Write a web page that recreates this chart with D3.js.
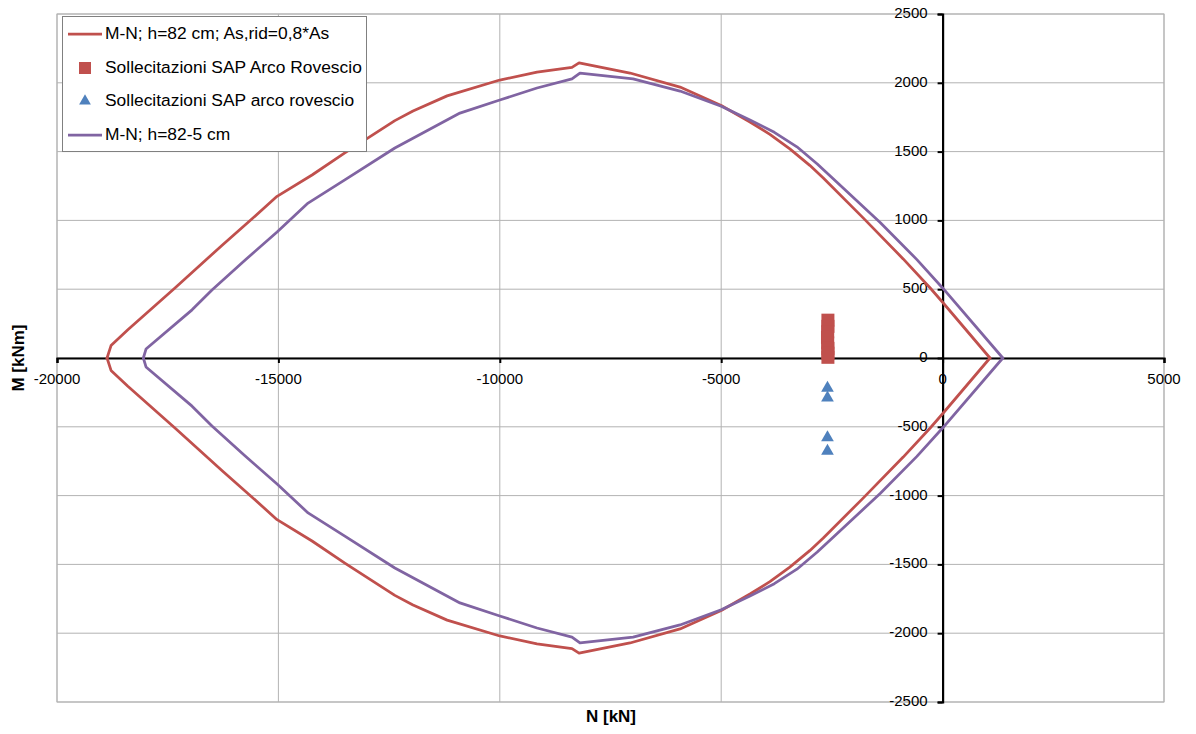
<!DOCTYPE html>
<html>
<head>
<meta charset="utf-8">
<script src="https://cdn.jsdelivr.net/npm/d3@7"></script>
<style>
  body { margin: 0; background: #fff; }
  text { font-family: "Liberation Sans", Arial, sans-serif; fill: #000; }
</style>
</head>
<body>
<svg id="chart" width="1196" height="734"></svg>
<script>
// M-N domain, h=82 cm; As,rid=0,8*As  [N kN, M kNm], upper and lower branch
const redUpper = [
  [-18870, 0], [-18780, 90], [-18400, 205], [-17330, 510], [-16270, 820],
  [-15600, 1010], [-15030, 1175], [-14240, 1330], [-13500, 1490], [-12370, 1725],
  [-11960, 1795], [-11190, 1905], [-10000, 2020], [-9160, 2078], [-8370, 2112],
  [-8210, 2145], [-7060, 2071], [-5930, 1969], [-5000, 1835], [-4350, 1715],
  [-3900, 1625], [-3450, 1520], [-3000, 1400], [-2700, 1310], [-1800, 1020],
  [-890, 720], [-270, 505], [0, 405], [1070, 0]
];
const redLower = [
  [-18870, 0], [-18780, -90], [-18400, -205], [-17330, -510], [-16270, -820],
  [-15600, -1010], [-15030, -1175], [-14240, -1330], [-13500, -1490], [-12370, -1725],
  [-11960, -1795], [-11190, -1905], [-10000, -2020], [-9160, -2078], [-8370, -2112],
  [-8210, -2145], [-7060, -2071], [-5930, -1969], [-5000, -1835], [-4350, -1715],
  [-3900, -1625], [-3450, -1520], [-3000, -1400], [-2700, -1310], [-1800, -1020],
  [-890, -720], [-270, -505], [0, -405], [1070, 0]
];

// M-N domain, h=82-5 cm
const purpleUpper = [
  [-18050, 0], [-17990, 65], [-16950, 350], [-16500, 494], [-15750, 712],
  [-15030, 916], [-14330, 1126], [-13500, 1294], [-12370, 1526], [-10900, 1780],
  [-10000, 1875], [-9160, 1962], [-8370, 2028], [-8190, 2071], [-6990, 2028],
  [-5930, 1940], [-5000, 1830], [-4350, 1730], [-3800, 1640], [-3290, 1535],
  [-2830, 1410], [-2380, 1275], [-1410, 985], [-580, 715], [0, 509], [1360, 0]
];
const purpleLower = [
  [-18050, 0], [-17990, -65], [-16950, -350], [-16500, -494], [-15750, -712],
  [-15030, -916], [-14330, -1126], [-13500, -1294], [-12370, -1526], [-10900, -1780],
  [-10000, -1875], [-9160, -1962], [-8370, -2028], [-8190, -2071], [-6990, -2028],
  [-5930, -1940], [-5000, -1830], [-4350, -1730], [-3800, -1640], [-3290, -1535],
  [-2830, -1410], [-2380, -1275], [-1410, -985], [-580, -715], [0, -509], [1360, 0]
];

// Sollecitazioni SAP Arco Rovescio (squares)
const squarePoints = [
  [-2590, 275], [-2590, 230], [-2595, 190], [-2600, 150], [-2595, 110],
  [-2590, 70], [-2590, 35], [-2590, 5]
];

// Sollecitazioni SAP arco rovescio (triangles)
const trianglePoints = [
  [-2600, -218], [-2600, -290], [-2600, -578], [-2600, -676]
];

const xTicks = [-20000, -15000, -10000, -5000, 0, 5000];
const yTicks = [-2500, -2000, -1500, -1000, -500, 0, 500, 1000, 1500, 2000, 2500];

const legendItems = [
  { label: "M-N; h=82 cm; As,rid=0,8*As", type: "line", color: "#C0504D" },
  { label: "Sollecitazioni SAP Arco Rovescio", type: "square", color: "#C0504D" },
  { label: "Sollecitazioni SAP arco rovescio", type: "triangle", color: "#4F81BD" },
  { label: "M-N; h=82-5 cm", type: "line", color: "#8064A2" }
];

const svg = d3.select("#chart");
const plot = { left: 57, right: 1164, top: 14, bottom: 702 };

const x = d3.scaleLinear().domain([-20000, 5000]).range([plot.left, plot.right]);
const y = d3.scaleLinear().domain([-2500, 2500]).range([plot.bottom, plot.top]);

// gridlines
svg.append("g").selectAll("line")
  .data(xTicks)
  .join("line")
  .attr("x1", d => x(d)).attr("x2", d => x(d))
  .attr("y1", plot.top).attr("y2", plot.bottom)
  .attr("stroke", "#b3b3b3").attr("stroke-width", 1);

svg.append("g").selectAll("line")
  .data(yTicks)
  .join("line")
  .attr("x1", plot.left).attr("x2", plot.right)
  .attr("y1", d => y(d)).attr("y2", d => y(d))
  .attr("stroke", "#b3b3b3").attr("stroke-width", 1);

svg.append("rect")
  .attr("x", plot.left).attr("y", plot.top)
  .attr("width", plot.right - plot.left).attr("height", plot.bottom - plot.top)
  .attr("fill", "none").attr("stroke", "#b3b3b3");

// tick labels
svg.append("g").selectAll("text")
  .data(xTicks)
  .join("text")
  .attr("x", d => x(d))
  .attr("y", y(0) + 22)
  .attr("text-anchor", "middle")
  .attr("dominant-baseline", "middle")
  .style("font-size", "15px")
  .text(d => d);

svg.append("g").selectAll("text")
  .data(yTicks)
  .join("text")
  .attr("x", x(0) - 15)
  .attr("y", d => y(d))
  .attr("text-anchor", "end")
  .attr("dominant-baseline", "middle")
  .style("font-size", "15px")
  .text(d => d);

// axes
const xAxis = d3.axisBottom(x).tickValues(xTicks).tickSize(5).tickFormat("");
const yAxis = d3.axisLeft(y).tickValues(yTicks).tickSize(5).tickFormat("");

const gx = svg.append("g").attr("transform", `translate(0,${y(0)})`).call(xAxis);
const gy = svg.append("g").attr("transform", `translate(${x(0)},0)`).call(yAxis);
[gx, gy].forEach(g => {
  g.select(".domain").attr("stroke", "#000").attr("stroke-width", 2.2);
  g.selectAll(".tick line").attr("stroke", "#000").attr("stroke-width", 2);
});

// curves
const line = d3.line()
  .x(d => x(d[0]))
  .y(d => y(d[1]));

[[redUpper, "#C0504D"], [redLower, "#C0504D"],
 [purpleUpper, "#8064A2"], [purpleLower, "#8064A2"]].forEach(([data, color]) => {
  svg.append("path")
    .datum(data)
    .attr("d", line)
    .attr("fill", "none")
    .attr("stroke", color)
    .attr("stroke-width", 2.75)
    .attr("stroke-linejoin", "round")
    .attr("stroke-linecap", "round");
});

// markers
const sq = 13;
svg.append("g").selectAll("rect")
  .data(squarePoints)
  .join("rect")
  .attr("x", d => x(d[0]) - sq / 2)
  .attr("y", d => y(d[1]) - sq / 2)
  .attr("width", sq).attr("height", sq)
  .attr("fill", "#C0504D");

const tri = d3.symbol().type(d3.symbolTriangle).size(70);
svg.append("g").selectAll("path")
  .data(trianglePoints)
  .join("path")
  .attr("transform", d => `translate(${x(d[0])},${y(d[1])})`)
  .attr("d", tri)
  .attr("fill", "#4F81BD");

// axis titles
svg.append("text")
  .attr("x", 611).attr("y", 718)
  .attr("text-anchor", "middle")
  .attr("dominant-baseline", "middle")
  .style("font-size", "17px").style("font-weight", "bold")
  .text("N [kN]");

svg.append("text")
  .attr("transform", "translate(20,358) rotate(-90)")
  .attr("text-anchor", "middle")
  .attr("dominant-baseline", "middle")
  .style("font-size", "17px").style("font-weight", "bold")
  .text("M [kNm]");

// legend
const legend = svg.append("g");
legend.append("rect")
  .attr("x", 62.5).attr("y", 16.5)
  .attr("width", 304).attr("height", 135)
  .attr("fill", "#fff").attr("stroke", "#808080");

const rowY = [34, 68, 101, 135];
legendItems.forEach((item, i) => {
  const g = legend.append("g").attr("transform", `translate(0,${rowY[i]})`);
  if (item.type === "line") {
    g.append("line")
      .attr("x1", 68).attr("x2", 102)
      .attr("stroke", item.color).attr("stroke-width", 2.75);
  } else if (item.type === "square") {
    g.append("rect")
      .attr("x", 79).attr("y", -6).attr("width", 12).attr("height", 12)
      .attr("fill", item.color);
  } else {
    g.append("path")
      .attr("transform", "translate(85,0)")
      .attr("d", d3.symbol().type(d3.symbolTriangle).size(60))
      .attr("fill", item.color);
  }
  g.append("text")
    .attr("x", 105)
    .attr("dominant-baseline", "middle")
    .style("font-size", "17.4px")
    .text(item.label);
});
</script>
</body>
</html>
